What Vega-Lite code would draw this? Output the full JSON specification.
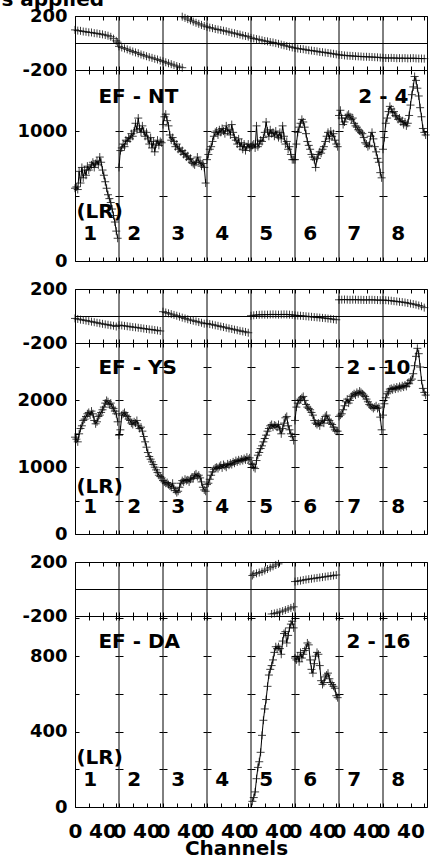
{
"$schema":"https://vega.github.io/schema/vega-lite/v6.json",
"padding":{"left":0,"top":-11,"right":0,"bottom":0},
"config":{
 "view":{"stroke":"black","strokeWidth":1},
 "axis":{"labelFont":"DejaVu Sans","labelFontWeight":"bold","labelFontSize":18,"labelColor":"black","domain":false,"tickColor":"black","tickWidth":1,"gridColor":"black","gridWidth":1,"gridOpacity":1,"labelFlush":false,"labelOverlap":false,"labelBound":false,"titleFont":"DejaVu Sans","titleFontWeight":"bold","titleFontSize":20,"titleColor":"black"}
},
"datasets":{
 "div":[{"b":64},{"b":128},{"b":192},{"b":256},{"b":320},{"b":384},{"b":448}],
 "a1":[
{"s":1,"x":0,"v":560},{"s":1,"x":2,"v":570},{"s":1,"x":4,"v":550},{"s":1,"x":6,"v":690},{"s":1,"x":8,"v":600},{"s":1,"x":10,"v":720},{"s":1,"x":12,"v":640},{"s":1,"x":14,"v":700},{"s":1,"x":16,"v":660},{"s":1,"x":18,"v":730},{"s":1,"x":20,"v":700},{"s":1,"x":22,"v":720},{"s":1,"x":24,"v":740},{"s":1,"x":26,"v":760},{"s":1,"x":28,"v":720},{"s":1,"x":30,"v":750},{"s":1,"x":32,"v":770},{"s":1,"x":34,"v":740},{"s":1,"x":36,"v":800},{"s":1,"x":38,"v":760},{"s":1,"x":40,"v":700},{"s":1,"x":42,"v":660},{"s":1,"x":44,"v":610},{"s":1,"x":46,"v":560},{"s":1,"x":48,"v":510},{"s":1,"x":50,"v":480},{"s":1,"x":52,"v":450},{"s":1,"x":54,"v":400},{"s":1,"x":56,"v":350},{"s":1,"x":58,"v":300},{"s":1,"x":60,"v":230},{"s":1,"x":62,"v":175},
{"s":2,"x":64,"v":720},{"s":2,"x":66,"v":850},{"s":2,"x":68,"v":870},{"s":2,"x":70,"v":900},{"s":2,"x":72,"v":880},{"s":2,"x":74,"v":930},{"s":2,"x":76,"v":920},{"s":2,"x":78,"v":950},{"s":2,"x":80,"v":940},{"s":2,"x":82,"v":980},{"s":2,"x":84,"v":960},{"s":2,"x":86,"v":1000},{"s":2,"x":88,"v":1060},{"s":2,"x":90,"v":1010},{"s":2,"x":92,"v":1100},{"s":2,"x":94,"v":1020},{"s":2,"x":96,"v":990},{"s":2,"x":98,"v":1040},{"s":2,"x":100,"v":1000},{"s":2,"x":102,"v":960},{"s":2,"x":104,"v":990},{"s":2,"x":106,"v":940},{"s":2,"x":108,"v":900},{"s":2,"x":110,"v":950},{"s":2,"x":112,"v":870},{"s":2,"x":114,"v":920},{"s":2,"x":116,"v":840},{"s":2,"x":118,"v":900},{"s":2,"x":120,"v":930},{"s":2,"x":122,"v":890},{"s":2,"x":124,"v":920},{"s":2,"x":126,"v":910},
{"s":3,"x":128,"v":1050},{"s":3,"x":130,"v":1110},{"s":3,"x":132,"v":1130},{"s":3,"x":134,"v":1080},{"s":3,"x":136,"v":1040},{"s":3,"x":138,"v":970},{"s":3,"x":140,"v":930},{"s":3,"x":142,"v":950},{"s":3,"x":144,"v":920},{"s":3,"x":146,"v":880},{"s":3,"x":148,"v":900},{"s":3,"x":150,"v":860},{"s":3,"x":152,"v":870},{"s":3,"x":154,"v":840},{"s":3,"x":156,"v":850},{"s":3,"x":158,"v":820},{"s":3,"x":160,"v":830},{"s":3,"x":162,"v":800},{"s":3,"x":164,"v":810},{"s":3,"x":166,"v":780},{"s":3,"x":168,"v":790},{"s":3,"x":170,"v":760},{"s":3,"x":172,"v":750},{"s":3,"x":174,"v":740},{"s":3,"x":176,"v":760},{"s":3,"x":178,"v":800},{"s":3,"x":180,"v":770},{"s":3,"x":182,"v":760},{"s":3,"x":184,"v":730},{"s":3,"x":186,"v":750},{"s":3,"x":188,"v":720},{"s":3,"x":190,"v":600},
{"s":4,"x":192,"v":780},{"s":4,"x":194,"v":820},{"s":4,"x":196,"v":860},{"s":4,"x":198,"v":880},{"s":4,"x":200,"v":920},{"s":4,"x":202,"v":960},{"s":4,"x":204,"v":990},{"s":4,"x":206,"v":1000},{"s":4,"x":208,"v":970},{"s":4,"x":210,"v":1010},{"s":4,"x":212,"v":990},{"s":4,"x":214,"v":1020},{"s":4,"x":216,"v":1000},{"s":4,"x":218,"v":980},{"s":4,"x":220,"v":1040},{"s":4,"x":222,"v":1000},{"s":4,"x":224,"v":1010},{"s":4,"x":226,"v":970},{"s":4,"x":228,"v":1050},{"s":4,"x":230,"v":990},{"s":4,"x":232,"v":950},{"s":4,"x":234,"v":930},{"s":4,"x":236,"v":900},{"s":4,"x":238,"v":940},{"s":4,"x":240,"v":880},{"s":4,"x":242,"v":910},{"s":4,"x":244,"v":860},{"s":4,"x":246,"v":900},{"s":4,"x":248,"v":850},{"s":4,"x":250,"v":880},{"s":4,"x":252,"v":900},{"s":4,"x":254,"v":870},
{"s":5,"x":256,"v":880},{"s":5,"x":258,"v":890},{"s":5,"x":260,"v":900},{"s":5,"x":262,"v":870},{"s":5,"x":264,"v":1040},{"s":5,"x":266,"v":880},{"s":5,"x":268,"v":900},{"s":5,"x":270,"v":930},{"s":5,"x":272,"v":920},{"s":5,"x":274,"v":950},{"s":5,"x":276,"v":990},{"s":5,"x":278,"v":1070},{"s":5,"x":280,"v":1000},{"s":5,"x":282,"v":960},{"s":5,"x":284,"v":1010},{"s":5,"x":286,"v":980},{"s":5,"x":288,"v":990},{"s":5,"x":290,"v":960},{"s":5,"x":292,"v":1000},{"s":5,"x":294,"v":970},{"s":5,"x":296,"v":950},{"s":5,"x":298,"v":990},{"s":5,"x":300,"v":940},{"s":5,"x":302,"v":1040},{"s":5,"x":304,"v":960},{"s":5,"x":306,"v":900},{"s":5,"x":308,"v":920},{"s":5,"x":310,"v":860},{"s":5,"x":312,"v":880},{"s":5,"x":314,"v":820},{"s":5,"x":316,"v":780},{"s":5,"x":318,"v":780},
{"s":6,"x":320,"v":780},{"s":6,"x":322,"v":900},{"s":6,"x":324,"v":990},{"s":6,"x":326,"v":1030},{"s":6,"x":328,"v":1060},{"s":6,"x":330,"v":1090},{"s":6,"x":332,"v":1070},{"s":6,"x":334,"v":1030},{"s":6,"x":336,"v":980},{"s":6,"x":338,"v":920},{"s":6,"x":340,"v":890},{"s":6,"x":342,"v":860},{"s":6,"x":344,"v":820},{"s":6,"x":346,"v":800},{"s":6,"x":348,"v":780},{"s":6,"x":350,"v":720},{"s":6,"x":352,"v":790},{"s":6,"x":354,"v":820},{"s":6,"x":356,"v":840},{"s":6,"x":358,"v":830},{"s":6,"x":360,"v":860},{"s":6,"x":362,"v":880},{"s":6,"x":364,"v":920},{"s":6,"x":366,"v":960},{"s":6,"x":368,"v":990},{"s":6,"x":370,"v":940},{"s":6,"x":372,"v":1000},{"s":6,"x":374,"v":960},{"s":6,"x":376,"v":980},{"s":6,"x":378,"v":930},{"s":6,"x":380,"v":900},{"s":6,"x":382,"v":880},
{"s":7,"x":384,"v":1120},{"s":7,"x":386,"v":1160},{"s":7,"x":388,"v":1100},{"s":7,"x":390,"v":1050},{"s":7,"x":392,"v":1070},{"s":7,"x":394,"v":1100},{"s":7,"x":396,"v":1120},{"s":7,"x":398,"v":1130},{"s":7,"x":400,"v":1110},{"s":7,"x":402,"v":1090},{"s":7,"x":404,"v":1100},{"s":7,"x":406,"v":1060},{"s":7,"x":408,"v":1040},{"s":7,"x":410,"v":1030},{"s":7,"x":412,"v":1010},{"s":7,"x":414,"v":1000},{"s":7,"x":416,"v":990},{"s":7,"x":418,"v":980},{"s":7,"x":420,"v":950},{"s":7,"x":422,"v":910},{"s":7,"x":424,"v":900},{"s":7,"x":426,"v":880},{"s":7,"x":428,"v":890},{"s":7,"x":430,"v":960},{"s":7,"x":432,"v":990},{"s":7,"x":434,"v":940},{"s":7,"x":436,"v":880},{"s":7,"x":438,"v":840},{"s":7,"x":440,"v":790},{"s":7,"x":442,"v":760},{"s":7,"x":444,"v":680},{"s":7,"x":446,"v":640},
{"s":8,"x":448,"v":860},{"s":8,"x":450,"v":950},{"s":8,"x":452,"v":1060},{"s":8,"x":454,"v":1100},{"s":8,"x":456,"v":1150},{"s":8,"x":458,"v":1190},{"s":8,"x":460,"v":1170},{"s":8,"x":462,"v":1140},{"s":8,"x":464,"v":1150},{"s":8,"x":466,"v":1120},{"s":8,"x":468,"v":1110},{"s":8,"x":470,"v":1090},{"s":8,"x":472,"v":1100},{"s":8,"x":474,"v":1070},{"s":8,"x":476,"v":1080},{"s":8,"x":478,"v":1050},{"s":8,"x":480,"v":1070},{"s":8,"x":482,"v":1040},{"s":8,"x":484,"v":1060},{"s":8,"x":486,"v":1120},{"s":8,"x":488,"v":1200},{"s":8,"x":490,"v":1280},{"s":8,"x":492,"v":1340},{"s":8,"x":494,"v":1420},{"s":8,"x":496,"v":1390},{"s":8,"x":498,"v":1330},{"s":8,"x":500,"v":1270},{"s":8,"x":502,"v":1180},{"s":8,"x":504,"v":1110},{"s":8,"x":506,"v":1020},{"s":8,"x":508,"v":990},{"s":8,"x":510,"v":970}
 ],
 "a2":[
{"s":1,"x":0,"v":1450},{"s":1,"x":2,"v":1420},{"s":1,"x":4,"v":1380},{"s":1,"x":6,"v":1500},{"s":1,"x":8,"v":1580},{"s":1,"x":10,"v":1620},{"s":1,"x":12,"v":1700},{"s":1,"x":14,"v":1720},{"s":1,"x":16,"v":1760},{"s":1,"x":18,"v":1800},{"s":1,"x":20,"v":1820},{"s":1,"x":22,"v":1780},{"s":1,"x":24,"v":1840},{"s":1,"x":26,"v":1800},{"s":1,"x":28,"v":1700},{"s":1,"x":30,"v":1650},{"s":1,"x":32,"v":1680},{"s":1,"x":34,"v":1760},{"s":1,"x":36,"v":1780},{"s":1,"x":38,"v":1820},{"s":1,"x":40,"v":1860},{"s":1,"x":42,"v":1900},{"s":1,"x":44,"v":1960},{"s":1,"x":46,"v":2000},{"s":1,"x":48,"v":1980},{"s":1,"x":50,"v":1940},{"s":1,"x":52,"v":1960},{"s":1,"x":54,"v":1900},{"s":1,"x":56,"v":1880},{"s":1,"x":58,"v":1840},{"s":1,"x":60,"v":1800},{"s":1,"x":62,"v":1680},
{"s":2,"x":64,"v":1480},{"s":2,"x":66,"v":1560},{"s":2,"x":68,"v":1780},{"s":2,"x":70,"v":1800},{"s":2,"x":72,"v":1820},{"s":2,"x":74,"v":1780},{"s":2,"x":76,"v":1760},{"s":2,"x":78,"v":1720},{"s":2,"x":80,"v":1700},{"s":2,"x":82,"v":1660},{"s":2,"x":84,"v":1640},{"s":2,"x":86,"v":1680},{"s":2,"x":88,"v":1660},{"s":2,"x":90,"v":1700},{"s":2,"x":92,"v":1620},{"s":2,"x":94,"v":1580},{"s":2,"x":96,"v":1600},{"s":2,"x":98,"v":1540},{"s":2,"x":100,"v":1460},{"s":2,"x":102,"v":1380},{"s":2,"x":104,"v":1300},{"s":2,"x":106,"v":1220},{"s":2,"x":108,"v":1160},{"s":2,"x":110,"v":1120},{"s":2,"x":112,"v":1080},{"s":2,"x":114,"v":1040},{"s":2,"x":116,"v":1000},{"s":2,"x":118,"v":960},{"s":2,"x":120,"v":920},{"s":2,"x":122,"v":880},{"s":2,"x":124,"v":860},{"s":2,"x":126,"v":840},
{"s":3,"x":128,"v":800},{"s":3,"x":130,"v":780},{"s":3,"x":132,"v":760},{"s":3,"x":134,"v":770},{"s":3,"x":136,"v":740},{"s":3,"x":138,"v":720},{"s":3,"x":140,"v":700},{"s":3,"x":142,"v":760},{"s":3,"x":144,"v":680},{"s":3,"x":146,"v":650},{"s":3,"x":148,"v":620},{"s":3,"x":150,"v":640},{"s":3,"x":152,"v":700},{"s":3,"x":154,"v":760},{"s":3,"x":156,"v":800},{"s":3,"x":158,"v":780},{"s":3,"x":160,"v":820},{"s":3,"x":162,"v":800},{"s":3,"x":164,"v":810},{"s":3,"x":166,"v":780},{"s":3,"x":168,"v":820},{"s":3,"x":170,"v":850},{"s":3,"x":172,"v":830},{"s":3,"x":174,"v":880},{"s":3,"x":176,"v":900},{"s":3,"x":178,"v":860},{"s":3,"x":180,"v":880},{"s":3,"x":182,"v":840},{"s":3,"x":184,"v":780},{"s":3,"x":186,"v":700},{"s":3,"x":188,"v":660},{"s":3,"x":190,"v":640},
{"s":4,"x":192,"v":740},{"s":4,"x":194,"v":760},{"s":4,"x":196,"v":820},{"s":4,"x":198,"v":880},{"s":4,"x":200,"v":930},{"s":4,"x":202,"v":970},{"s":4,"x":204,"v":990},{"s":4,"x":206,"v":1000},{"s":4,"x":208,"v":980},{"s":4,"x":210,"v":1010},{"s":4,"x":212,"v":1030},{"s":4,"x":214,"v":990},{"s":4,"x":216,"v":1040},{"s":4,"x":218,"v":1020},{"s":4,"x":220,"v":1000},{"s":4,"x":222,"v":1050},{"s":4,"x":224,"v":1030},{"s":4,"x":226,"v":1060},{"s":4,"x":228,"v":1040},{"s":4,"x":230,"v":1080},{"s":4,"x":232,"v":1060},{"s":4,"x":234,"v":1100},{"s":4,"x":236,"v":1080},{"s":4,"x":238,"v":1110},{"s":4,"x":240,"v":1090},{"s":4,"x":242,"v":1120},{"s":4,"x":244,"v":1100},{"s":4,"x":246,"v":1130},{"s":4,"x":248,"v":1110},{"s":4,"x":250,"v":1150},{"s":4,"x":252,"v":1120},{"s":4,"x":254,"v":1140},
{"s":5,"x":256,"v":1060},{"s":5,"x":258,"v":1040},{"s":5,"x":260,"v":1000},{"s":5,"x":262,"v":980},{"s":5,"x":264,"v":1100},{"s":5,"x":266,"v":1180},{"s":5,"x":268,"v":1220},{"s":5,"x":270,"v":1280},{"s":5,"x":272,"v":1320},{"s":5,"x":274,"v":1380},{"s":5,"x":276,"v":1430},{"s":5,"x":278,"v":1480},{"s":5,"x":280,"v":1540},{"s":5,"x":282,"v":1580},{"s":5,"x":284,"v":1620},{"s":5,"x":286,"v":1640},{"s":5,"x":288,"v":1600},{"s":5,"x":290,"v":1630},{"s":5,"x":292,"v":1620},{"s":5,"x":294,"v":1600},{"s":5,"x":296,"v":1640},{"s":5,"x":298,"v":1560},{"s":5,"x":300,"v":1500},{"s":5,"x":302,"v":1580},{"s":5,"x":304,"v":1660},{"s":5,"x":306,"v":1740},{"s":5,"x":308,"v":1760},{"s":5,"x":310,"v":1620},{"s":5,"x":312,"v":1560},{"s":5,"x":314,"v":1500},{"s":5,"x":316,"v":1460},{"s":5,"x":318,"v":1400},
{"s":6,"x":320,"v":1700},{"s":6,"x":322,"v":1900},{"s":6,"x":324,"v":1960},{"s":6,"x":326,"v":2000},{"s":6,"x":328,"v":2020},{"s":6,"x":330,"v":2040},{"s":6,"x":332,"v":2060},{"s":6,"x":334,"v":2000},{"s":6,"x":336,"v":1940},{"s":6,"x":338,"v":1900},{"s":6,"x":340,"v":1880},{"s":6,"x":342,"v":1860},{"s":6,"x":344,"v":1820},{"s":6,"x":346,"v":1780},{"s":6,"x":348,"v":1700},{"s":6,"x":350,"v":1660},{"s":6,"x":352,"v":1640},{"s":6,"x":354,"v":1660},{"s":6,"x":356,"v":1620},{"s":6,"x":358,"v":1680},{"s":6,"x":360,"v":1700},{"s":6,"x":362,"v":1660},{"s":6,"x":364,"v":1760},{"s":6,"x":366,"v":1780},{"s":6,"x":368,"v":1720},{"s":6,"x":370,"v":1700},{"s":6,"x":372,"v":1660},{"s":6,"x":374,"v":1640},{"s":6,"x":376,"v":1600},{"s":6,"x":378,"v":1560},{"s":6,"x":380,"v":1540},{"s":6,"x":382,"v":1540},
{"s":7,"x":384,"v":1760},{"s":7,"x":386,"v":1780},{"s":7,"x":388,"v":1800},{"s":7,"x":390,"v":1860},{"s":7,"x":392,"v":1920},{"s":7,"x":394,"v":1980},{"s":7,"x":396,"v":2020},{"s":7,"x":398,"v":1960},{"s":7,"x":400,"v":2000},{"s":7,"x":402,"v":2060},{"s":7,"x":404,"v":2080},{"s":7,"x":406,"v":2100},{"s":7,"x":408,"v":2080},{"s":7,"x":410,"v":2120},{"s":7,"x":412,"v":2100},{"s":7,"x":414,"v":2140},{"s":7,"x":416,"v":2120},{"s":7,"x":418,"v":2100},{"s":7,"x":420,"v":2080},{"s":7,"x":422,"v":2060},{"s":7,"x":424,"v":2020},{"s":7,"x":426,"v":1980},{"s":7,"x":428,"v":1940},{"s":7,"x":430,"v":1920},{"s":7,"x":432,"v":1900},{"s":7,"x":434,"v":1880},{"s":7,"x":436,"v":1900},{"s":7,"x":438,"v":1920},{"s":7,"x":440,"v":1880},{"s":7,"x":442,"v":1900},{"s":7,"x":444,"v":1750},{"s":7,"x":446,"v":1560},
{"s":8,"x":448,"v":1780},{"s":8,"x":450,"v":1950},{"s":8,"x":452,"v":2040},{"s":8,"x":454,"v":2100},{"s":8,"x":456,"v":2130},{"s":8,"x":458,"v":2170},{"s":8,"x":460,"v":2180},{"s":8,"x":462,"v":2160},{"s":8,"x":464,"v":2190},{"s":8,"x":466,"v":2170},{"s":8,"x":468,"v":2200},{"s":8,"x":470,"v":2180},{"s":8,"x":472,"v":2210},{"s":8,"x":474,"v":2190},{"s":8,"x":476,"v":2220},{"s":8,"x":478,"v":2200},{"s":8,"x":480,"v":2230},{"s":8,"x":482,"v":2210},{"s":8,"x":484,"v":2260},{"s":8,"x":486,"v":2250},{"s":8,"x":488,"v":2300},{"s":8,"x":490,"v":2320},{"s":8,"x":492,"v":2400},{"s":8,"x":494,"v":2520},{"s":8,"x":496,"v":2660},{"s":8,"x":498,"v":2780},{"s":8,"x":500,"v":2700},{"s":8,"x":502,"v":2500},{"s":8,"x":504,"v":2300},{"s":8,"x":506,"v":2180},{"s":8,"x":508,"v":2120},{"s":8,"x":510,"v":2080}
 ],
 "a3":[
{"s":5,"x":258,"v":30},{"s":5,"x":260,"v":50},{"s":5,"x":262,"v":80},{"s":5,"x":264,"v":150},{"s":5,"x":266,"v":210},{"s":5,"x":268,"v":240},{"s":5,"x":270,"v":290},{"s":5,"x":272,"v":380},{"s":5,"x":274,"v":460},{"s":5,"x":276,"v":520},{"s":5,"x":278,"v":570},{"s":5,"x":280,"v":640},{"s":5,"x":282,"v":700},{"s":5,"x":284,"v":730},{"s":5,"x":286,"v":750},{"s":5,"x":288,"v":780},{"s":5,"x":290,"v":820},{"s":5,"x":292,"v":850},{"s":5,"x":294,"v":840},{"s":5,"x":296,"v":850},{"s":5,"x":298,"v":840},{"s":5,"x":300,"v":810},{"s":5,"x":302,"v":880},{"s":5,"x":304,"v":920},{"s":5,"x":306,"v":930},{"s":5,"x":308,"v":870},{"s":5,"x":310,"v":910},{"s":5,"x":312,"v":950},{"s":5,"x":314,"v":970},{"s":5,"x":316,"v":985},{"s":5,"x":318,"v":950},
{"s":6,"x":320,"v":790},{"s":6,"x":322,"v":780},{"s":6,"x":324,"v":800},{"s":6,"x":326,"v":770},{"s":6,"x":328,"v":820},{"s":6,"x":330,"v":790},{"s":6,"x":332,"v":810},{"s":6,"x":334,"v":830},{"s":6,"x":336,"v":840},{"s":6,"x":338,"v":870},{"s":6,"x":340,"v":860},{"s":6,"x":342,"v":780},{"s":6,"x":344,"v":730},{"s":6,"x":346,"v":710},{"s":6,"x":348,"v":760},{"s":6,"x":350,"v":800},{"s":6,"x":352,"v":820},{"s":6,"x":354,"v":810},{"s":6,"x":356,"v":750},{"s":6,"x":358,"v":670},{"s":6,"x":360,"v":650},{"s":6,"x":362,"v":660},{"s":6,"x":364,"v":690},{"s":6,"x":366,"v":700},{"s":6,"x":368,"v":710},{"s":6,"x":370,"v":680},{"s":6,"x":372,"v":660},{"s":6,"x":374,"v":650},{"s":6,"x":376,"v":640},{"s":6,"x":378,"v":630},{"s":6,"x":380,"v":590},{"s":6,"x":382,"v":580}
 ],
 "p1":[
{"x":0,"v":97},{"x":4,"v":92},{"x":8,"v":90},{"x":12,"v":85},{"x":16,"v":83},{"x":20,"v":79},{"x":24,"v":78},{"x":28,"v":73},{"x":32,"v":71},{"x":36,"v":67},{"x":40,"v":64},{"x":44,"v":59},{"x":48,"v":54},{"x":52,"v":46},{"x":56,"v":32},{"x":60,"v":16},{"x":62,"v":6},
{"x":64,"v":-25},{"x":68,"v":-33},{"x":72,"v":-40},{"x":76,"v":-47},{"x":80,"v":-55},{"x":84,"v":-63},{"x":88,"v":-70},{"x":92,"v":-76},{"x":96,"v":-85},{"x":100,"v":-91},{"x":104,"v":-98},{"x":108,"v":-105},{"x":112,"v":-110},{"x":116,"v":-117},{"x":120,"v":-122},{"x":124,"v":-130},
{"x":128,"v":-136},{"x":132,"v":-143},{"x":136,"v":-150},{"x":140,"v":-157},{"x":144,"v":-164},{"x":148,"v":-171},{"x":152,"v":-178},{"x":156,"v":-183},
{"x":156,"v":195},{"x":160,"v":186},{"x":164,"v":177},{"x":168,"v":168},{"x":172,"v":158},{"x":176,"v":150},{"x":180,"v":142},{"x":184,"v":134},{"x":188,"v":126},
{"x":192,"v":120},{"x":196,"v":114},{"x":200,"v":110},{"x":204,"v":104},{"x":208,"v":100},{"x":212,"v":96},{"x":216,"v":91},{"x":220,"v":87},{"x":224,"v":82},{"x":228,"v":76},{"x":232,"v":72},{"x":236,"v":67},{"x":240,"v":62},{"x":244,"v":56},{"x":248,"v":52},{"x":252,"v":47},
{"x":256,"v":38},{"x":260,"v":34},{"x":264,"v":29},{"x":268,"v":25},{"x":272,"v":20},{"x":276,"v":15},{"x":280,"v":12},{"x":284,"v":7},{"x":288,"v":4},{"x":292,"v":-1},{"x":296,"v":-6},{"x":300,"v":-12},{"x":304,"v":-17},{"x":308,"v":-22},{"x":312,"v":-27},{"x":316,"v":-33},
{"x":320,"v":-37},{"x":324,"v":-41},{"x":328,"v":-44},{"x":332,"v":-46},{"x":336,"v":-50},{"x":340,"v":-54},{"x":344,"v":-56},{"x":348,"v":-59},{"x":352,"v":-62},{"x":356,"v":-66},{"x":360,"v":-68},{"x":364,"v":-71},{"x":368,"v":-74},{"x":372,"v":-77},{"x":376,"v":-80},{"x":380,"v":-84},
{"x":384,"v":-88},{"x":388,"v":-89},{"x":392,"v":-92},{"x":396,"v":-94},{"x":400,"v":-95},{"x":404,"v":-96},{"x":408,"v":-98},{"x":412,"v":-99},{"x":416,"v":-100},{"x":420,"v":-102},{"x":424,"v":-102},{"x":428,"v":-103},{"x":432,"v":-104},{"x":436,"v":-105},{"x":440,"v":-106},{"x":444,"v":-108},
{"x":448,"v":-110},{"x":452,"v":-111},{"x":456,"v":-112},{"x":460,"v":-110},{"x":464,"v":-111},{"x":468,"v":-113},{"x":472,"v":-112},{"x":476,"v":-113},{"x":480,"v":-112},{"x":484,"v":-114},{"x":488,"v":-113},{"x":492,"v":-112},{"x":496,"v":-114},{"x":500,"v":-115},{"x":504,"v":-115},{"x":508,"v":-116}
 ],
 "p2":[
{"x":0,"v":-18},{"x":4,"v":-22},{"x":8,"v":-27},{"x":12,"v":-30},{"x":16,"v":-34},{"x":20,"v":-38},{"x":24,"v":-42},{"x":28,"v":-46},{"x":32,"v":-50},{"x":36,"v":-54},{"x":40,"v":-58},{"x":44,"v":-62},{"x":48,"v":-65},{"x":52,"v":-69},{"x":56,"v":-72},{"x":60,"v":-78},
{"x":64,"v":-68},{"x":68,"v":-70},{"x":72,"v":-73},{"x":76,"v":-76},{"x":80,"v":-79},{"x":84,"v":-82},{"x":88,"v":-84},{"x":92,"v":-87},{"x":96,"v":-90},{"x":100,"v":-93},{"x":104,"v":-96},{"x":108,"v":-99},{"x":112,"v":-101},{"x":116,"v":-104},{"x":120,"v":-107},{"x":124,"v":-111},
{"x":128,"v":32},{"x":132,"v":26},{"x":136,"v":20},{"x":140,"v":14},{"x":144,"v":8},{"x":148,"v":2},{"x":152,"v":-5},{"x":156,"v":-12},{"x":160,"v":-18},{"x":164,"v":-24},{"x":168,"v":-30},{"x":172,"v":-35},{"x":176,"v":-40},{"x":180,"v":-45},{"x":184,"v":-50},{"x":188,"v":-57},
{"x":192,"v":-55},{"x":196,"v":-60},{"x":200,"v":-64},{"x":204,"v":-69},{"x":208,"v":-73},{"x":212,"v":-78},{"x":216,"v":-82},{"x":220,"v":-87},{"x":224,"v":-92},{"x":228,"v":-96},{"x":232,"v":-101},{"x":236,"v":-105},{"x":240,"v":-110},{"x":244,"v":-114},{"x":248,"v":-118},{"x":252,"v":-124},
{"x":256,"v":2},{"x":260,"v":5},{"x":264,"v":8},{"x":268,"v":9},{"x":272,"v":10},{"x":276,"v":10},{"x":280,"v":10},{"x":284,"v":11},{"x":288,"v":12},{"x":292,"v":11},{"x":296,"v":10},{"x":300,"v":11},{"x":304,"v":12},{"x":308,"v":11},{"x":312,"v":10},{"x":316,"v":8},
{"x":320,"v":5},{"x":324,"v":3},{"x":328,"v":2},{"x":332,"v":0},{"x":336,"v":-2},{"x":340,"v":-4},{"x":344,"v":-6},{"x":348,"v":-8},{"x":352,"v":-10},{"x":356,"v":-12},{"x":360,"v":-14},{"x":364,"v":-16},{"x":368,"v":-19},{"x":372,"v":-21},{"x":376,"v":-24},{"x":380,"v":-28},
{"x":384,"v":120},{"x":388,"v":121},{"x":392,"v":122},{"x":396,"v":121},{"x":400,"v":120},{"x":404,"v":121},{"x":408,"v":121},{"x":412,"v":120},{"x":416,"v":120},{"x":420,"v":119},{"x":424,"v":119},{"x":428,"v":120},{"x":432,"v":120},{"x":436,"v":119},{"x":440,"v":118},{"x":444,"v":117},
{"x":448,"v":118},{"x":452,"v":117},{"x":456,"v":115},{"x":460,"v":113},{"x":464,"v":110},{"x":468,"v":108},{"x":472,"v":105},{"x":476,"v":103},{"x":480,"v":100},{"x":484,"v":96},{"x":488,"v":92},{"x":492,"v":88},{"x":496,"v":84},{"x":500,"v":78},{"x":504,"v":72},{"x":508,"v":62}
 ],
 "p3":[
{"x":258,"v":100},{"x":260,"v":110},{"x":264,"v":116},{"x":268,"v":122},{"x":272,"v":128},{"x":276,"v":138},{"x":280,"v":148},{"x":284,"v":158},{"x":288,"v":168},{"x":292,"v":178},{"x":296,"v":186},
{"x":286,"v":-185},{"x":290,"v":-181},{"x":294,"v":-176},{"x":298,"v":-170},{"x":302,"v":-164},{"x":306,"v":-156},{"x":310,"v":-148},{"x":314,"v":-140},{"x":318,"v":-132},
{"x":320,"v":55},{"x":324,"v":58},{"x":328,"v":62},{"x":332,"v":66},{"x":336,"v":70},{"x":340,"v":73},{"x":344,"v":76},{"x":348,"v":79},{"x":352,"v":82},{"x":356,"v":85},{"x":360,"v":88},{"x":364,"v":91},{"x":368,"v":94},{"x":372,"v":97},{"x":376,"v":100},{"x":380,"v":104}
 ],
 "l1":[{"t":"EF - NT","x":34,"v":1215},{"t":"2 - 4","x":412,"v":1215},{"t":"(LR)","x":2,"v":334}],
 "l2":[{"t":"EF - YS","x":34,"v":2391},{"t":"2 - 10","x":395,"v":2391},{"t":"(LR)","x":2,"v":621}],
 "l3":[{"t":"EF - DA","x":34,"v":845},{"t":"2 - 16","x":395,"v":845},{"t":"(LR)","x":2,"v":228}],
 "n1":[{"t":"1","x":22,"v":160},{"t":"2","x":86,"v":160},{"t":"3","x":150,"v":160},{"t":"4","x":214,"v":160},{"t":"5","x":278,"v":160},{"t":"6","x":342,"v":160},{"t":"7","x":406,"v":160},{"t":"8","x":470,"v":160}],
 "n2":[{"t":"1","x":22,"v":320},{"t":"2","x":86,"v":320},{"t":"3","x":150,"v":320},{"t":"4","x":214,"v":320},{"t":"5","x":278,"v":320},{"t":"6","x":342,"v":320},{"t":"7","x":406,"v":320},{"t":"8","x":470,"v":320}],
 "n3":[{"t":"1","x":22,"v":112},{"t":"2","x":86,"v":112},{"t":"3","x":150,"v":112},{"t":"4","x":214,"v":112},{"t":"5","x":278,"v":112},{"t":"6","x":342,"v":112},{"t":"7","x":406,"v":112},{"t":"8","x":470,"v":112}],
 "ttl":[{"t":"s applied","x":-107,"v":274}]
},
"spacing":8,
"vconcat":[
 {"spacing":0,"bounds":"flush","vconcat":[
  {"width":352,"height":54,"resolve":{"axis":{"x":"independent","y":"independent"}},"layer":[
   {"data":{"name":"div"},"mark":{"type":"rule","color":"black","strokeWidth":1},"encoding":{"x":{"field":"b","type":"quantitative","scale":{"domain":[0,512],"nice":false,"zero":false},"axis":{"orient":"bottom","values":[0,20,40,60,64,84,104,124,128,148,168,188,192,212,232,252,256,276,296,316,320,340,360,380,384,404,424,444,448,468,488,508],"tickSize":-4,"labels":false,"grid":false,"title":null}}}},
   {"data":{"name":"ttl"},"mark":{"type":"text","align":"left","baseline":"alphabetic","font":"DejaVu Sans","fontWeight":"bold","fontSize":20,"color":"black"},"encoding":{"x":{"field":"x","type":"quantitative","axis":null},"y":{"field":"v","type":"quantitative","axis":null},"text":{"field":"t"}}},
   {"data":{"name":"p1"},"mark":{"type":"point","shape":"M-1,0L1,0M0,-1L0,1","size":64,"filled":false,"color":"black","strokeWidth":1,"opacity":0.75},"encoding":{"x":{"field":"x","type":"quantitative","scale":{"domain":[0,512],"nice":false,"zero":false},"axis":{"orient":"top","values":[0,20,40,60,64,84,104,124,128,148,168,188,192,212,232,252,256,276,296,316,320,340,360,380,384,404,424,444,448,468,488,508],"tickSize":-4,"labels":false,"grid":false,"title":null}},"y":{"field":"v","type":"quantitative","scale":{"domain":[-200,200],"nice":false,"zero":false},"axis":{"orient":"left","values":[-200,0,200],"ticks":false,"grid":true,"labelPadding":8,"labelExpr":"datum.value == 200 ? '200' : datum.value == -200 ? '-200' : ''","title":null}}}}
  ]},
  {"width":352,"height":191,"resolve":{"axis":{"x":"independent","y":"independent"}},"layer":[
   {"data":{"name":"div"},"mark":{"type":"rule","color":"black","strokeWidth":1},"encoding":{"x":{"field":"b","type":"quantitative","scale":{"domain":[0,512],"nice":false,"zero":false},"axis":{"orient":"bottom","values":[0,20,40,60,64,84,104,124,128,148,168,188,192,212,232,252,256,276,296,316,320,340,360,380,384,404,424,444,448,468,488,508],"tickSize":-4,"labels":false,"grid":false,"title":null}}}},
   {"data":{"name":"a1"},"mark":{"type":"point","shape":"M-1,0L1,0M0,-1L0,1","size":64,"filled":false,"color":"black","strokeWidth":1,"opacity":0.75},"encoding":{"x":{"field":"x","type":"quantitative","axis":null},"y":{"field":"v","type":"quantitative","axis":null}}},
   {"data":{"name":"l1"},"mark":{"type":"text","align":"left","baseline":"alphabetic","font":"DejaVu Sans","fontWeight":"bold","fontSize":20,"color":"black"},"encoding":{"x":{"field":"x","type":"quantitative","axis":null},"y":{"field":"v","type":"quantitative","axis":null},"text":{"field":"t"}}},
   {"data":{"name":"n1"},"mark":{"type":"text","align":"center","baseline":"alphabetic","font":"DejaVu Sans","fontWeight":"bold","fontSize":20,"color":"black"},"encoding":{"x":{"field":"x","type":"quantitative","axis":null},"y":{"field":"v","type":"quantitative","axis":null},"text":{"field":"t"}}},
   {"data":{"name":"a1"},"mark":{"type":"line","color":"black","strokeWidth":1},"encoding":{"x":{"field":"x","type":"quantitative","scale":{"domain":[0,512],"nice":false,"zero":false},"axis":{"orient":"top","values":[0,20,40,60,64,84,104,124,128,148,168,188,192,212,232,252,256,276,296,316,320,340,360,380,384,404,424,444,448,468,488,508],"tickSize":-4,"labels":false,"grid":false,"title":null}},"y":{"field":"v","type":"quantitative","scale":{"domain":[0,1470],"nice":false,"zero":false},"axis":{"orient":"left","values":[0,500,1000],"ticks":false,"grid":true,"gridDash":[4,36,4,0],"labelPadding":8,"labelExpr":"datum.value % 1000 == 0 ? '' + datum.value : ''","title":null}},"detail":{"field":"s","type":"nominal"}}}
  ]}
 ]},
 {"spacing":0,"bounds":"flush","vconcat":[
  {"width":352,"height":54,"resolve":{"axis":{"x":"independent","y":"independent"}},"layer":[
   {"data":{"name":"div"},"mark":{"type":"rule","color":"black","strokeWidth":1},"encoding":{"x":{"field":"b","type":"quantitative","scale":{"domain":[0,512],"nice":false,"zero":false},"axis":{"orient":"bottom","values":[0,20,40,60,64,84,104,124,128,148,168,188,192,212,232,252,256,276,296,316,320,340,360,380,384,404,424,444,448,468,488,508],"tickSize":-4,"labels":false,"grid":false,"title":null}}}},
   {"data":{"name":"p2"},"mark":{"type":"point","shape":"M-1,0L1,0M0,-1L0,1","size":64,"filled":false,"color":"black","strokeWidth":1,"opacity":0.75},"encoding":{"x":{"field":"x","type":"quantitative","scale":{"domain":[0,512],"nice":false,"zero":false},"axis":{"orient":"top","values":[0,20,40,60,64,84,104,124,128,148,168,188,192,212,232,252,256,276,296,316,320,340,360,380,384,404,424,444,448,468,488,508],"tickSize":-4,"labels":false,"grid":false,"title":null}},"y":{"field":"v","type":"quantitative","scale":{"domain":[-200,200],"nice":false,"zero":false},"axis":{"orient":"left","values":[-200,0,200],"ticks":false,"grid":true,"labelPadding":8,"labelExpr":"datum.value == 200 ? '200' : datum.value == -200 ? '-200' : ''","title":null}}}}
  ]},
  {"width":352,"height":191,"resolve":{"axis":{"x":"independent","y":"independent"}},"layer":[
   {"data":{"name":"div"},"mark":{"type":"rule","color":"black","strokeWidth":1},"encoding":{"x":{"field":"b","type":"quantitative","scale":{"domain":[0,512],"nice":false,"zero":false},"axis":{"orient":"bottom","values":[0,20,40,60,64,84,104,124,128,148,168,188,192,212,232,252,256,276,296,316,320,340,360,380,384,404,424,444,448,468,488,508],"tickSize":-4,"labels":false,"grid":false,"title":null}}}},
   {"data":{"name":"a2"},"mark":{"type":"point","shape":"M-1,0L1,0M0,-1L0,1","size":64,"filled":false,"color":"black","strokeWidth":1,"opacity":0.75},"encoding":{"x":{"field":"x","type":"quantitative","axis":null},"y":{"field":"v","type":"quantitative","axis":null}}},
   {"data":{"name":"l2"},"mark":{"type":"text","align":"left","baseline":"alphabetic","font":"DejaVu Sans","fontWeight":"bold","fontSize":20,"color":"black"},"encoding":{"x":{"field":"x","type":"quantitative","axis":null},"y":{"field":"v","type":"quantitative","axis":null},"text":{"field":"t"}}},
   {"data":{"name":"n2"},"mark":{"type":"text","align":"center","baseline":"alphabetic","font":"DejaVu Sans","fontWeight":"bold","fontSize":20,"color":"black"},"encoding":{"x":{"field":"x","type":"quantitative","axis":null},"y":{"field":"v","type":"quantitative","axis":null},"text":{"field":"t"}}},
   {"data":{"name":"a2"},"mark":{"type":"line","color":"black","strokeWidth":1},"encoding":{"x":{"field":"x","type":"quantitative","scale":{"domain":[0,512],"nice":false,"zero":false},"axis":{"orient":"top","values":[0,20,40,60,64,84,104,124,128,148,168,188,192,212,232,252,256,276,296,316,320,340,360,380,384,404,424,444,448,468,488,508],"tickSize":-4,"labels":false,"grid":false,"title":null}},"y":{"field":"v","type":"quantitative","scale":{"domain":[0,2860],"nice":false,"zero":false},"axis":{"orient":"left","values":[0,500,1000,1500,2000,2500],"ticks":false,"grid":true,"gridDash":[4,36,4,0],"labelPadding":8,"labelExpr":"datum.value % 1000 == 0 ? '' + datum.value : ''","title":null}},"detail":{"field":"s","type":"nominal"}}}
  ]}
 ]},
 {"spacing":0,"bounds":"flush","vconcat":[
  {"width":352,"height":54,"resolve":{"axis":{"x":"independent","y":"independent"}},"layer":[
   {"data":{"name":"div"},"mark":{"type":"rule","color":"black","strokeWidth":1},"encoding":{"x":{"field":"b","type":"quantitative","scale":{"domain":[0,512],"nice":false,"zero":false},"axis":{"orient":"bottom","values":[0,20,40,60,64,84,104,124,128,148,168,188,192,212,232,252,256,276,296,316,320,340,360,380,384,404,424,444,448,468,488,508],"tickSize":-4,"labels":false,"grid":false,"title":null}}}},
   {"data":{"name":"p3"},"mark":{"type":"point","shape":"M-1,0L1,0M0,-1L0,1","size":64,"filled":false,"color":"black","strokeWidth":1,"opacity":0.75},"encoding":{"x":{"field":"x","type":"quantitative","scale":{"domain":[0,512],"nice":false,"zero":false},"axis":{"orient":"top","values":[0,20,40,60,64,84,104,124,128,148,168,188,192,212,232,252,256,276,296,316,320,340,360,380,384,404,424,444,448,468,488,508],"tickSize":-4,"labels":false,"grid":false,"title":null}},"y":{"field":"v","type":"quantitative","scale":{"domain":[-200,200],"nice":false,"zero":false},"axis":{"orient":"left","values":[-200,0,200],"ticks":false,"grid":true,"labelPadding":8,"labelExpr":"datum.value == 200 ? '200' : datum.value == -200 ? '-200' : ''","title":null}}}}
  ]},
  {"width":352,"height":191,"resolve":{"axis":{"x":"independent","y":"independent"}},"layer":[
   {"data":{"name":"div"},"mark":{"type":"rule","color":"black","strokeWidth":1},"encoding":{"x":{"field":"b","type":"quantitative","scale":{"domain":[0,512],"nice":false,"zero":false},"axis":{"orient":"bottom","values":[0,20,40,60,64,84,104,124,128,148,168,188,192,212,232,252,256,276,296,316,320,340,360,380,384,404,424,444,448,468,488,508],"tickSize":-4,"labels":false,"grid":false,"title":null}}}},
   {"data":{"name":"a3"},"mark":{"type":"point","shape":"M-1,0L1,0M0,-1L0,1","size":64,"filled":false,"color":"black","strokeWidth":1,"opacity":0.75},"encoding":{"x":{"field":"x","type":"quantitative","axis":{"orient":"bottom","values":[0,40,64,104,128,168,192,232,256,296,320,360,384,424,448,488],"ticks":false,"grid":false,"labelPadding":14,"labelFontSize":20,"labelExpr":"datum.value % 64 == 0 ? '0' : '40'","title":"Channels","titleX":161,"titleY":31,"titleBaseline":"top","titleAnchor":"middle"}},"y":{"field":"v","type":"quantitative","axis":null}}},
   {"data":{"name":"l3"},"mark":{"type":"text","align":"left","baseline":"alphabetic","font":"DejaVu Sans","fontWeight":"bold","fontSize":20,"color":"black"},"encoding":{"x":{"field":"x","type":"quantitative","axis":null},"y":{"field":"v","type":"quantitative","axis":null},"text":{"field":"t"}}},
   {"data":{"name":"n3"},"mark":{"type":"text","align":"center","baseline":"alphabetic","font":"DejaVu Sans","fontWeight":"bold","fontSize":20,"color":"black"},"encoding":{"x":{"field":"x","type":"quantitative","axis":null},"y":{"field":"v","type":"quantitative","axis":null},"text":{"field":"t"}}},
   {"data":{"name":"a3"},"mark":{"type":"line","color":"black","strokeWidth":1},"encoding":{"x":{"field":"x","type":"quantitative","scale":{"domain":[0,512],"nice":false,"zero":false},"axis":{"orient":"top","values":[0,20,40,60,64,84,104,124,128,148,168,188,192,212,232,252,256,276,296,316,320,340,360,380,384,404,424,444,448,468,488,508],"tickSize":-4,"labels":false,"grid":false,"title":null}},"y":{"field":"v","type":"quantitative","scale":{"domain":[0,1013],"nice":false,"zero":false},"axis":{"orient":"left","values":[0,200,400,600,800,1000],"ticks":false,"grid":true,"gridDash":[4,36,4,0],"labelPadding":8,"labelExpr":"datum.value % 400 == 0 ? '' + datum.value : ''","title":null}},"detail":{"field":"s","type":"nominal"}}}
  ]}
 ]}
]
}
